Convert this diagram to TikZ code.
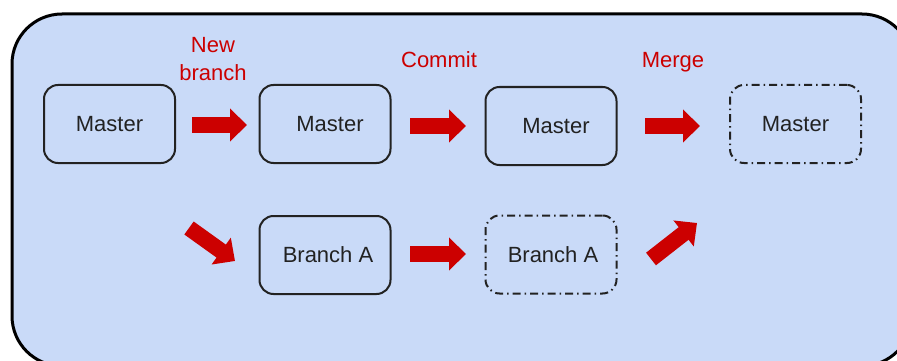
\documentclass[tikz,border=0pt]{standalone}
\usepackage{fontspec}
\setmainfont{Liberation Sans}
\usetikzlibrary{arrows.meta}
\definecolor{bgblue}{HTML}{C9DAF8}
\definecolor{redc}{HTML}{CC0000}
\definecolor{ink}{HTML}{222222}
\begin{document}
\begin{tikzpicture}[x=1pt,y=-1pt,
  box/.style={draw=ink, line width=2pt, rounded corners=14pt, minimum width=131pt, minimum height=78pt, font=\fontsize{22}{26}\selectfont, text=ink, inner sep=0pt},
  ghost/.style={box, dash pattern=on 8pt off 4pt on 1.5pt off 4pt},
  bigarrow/.style={draw=redc, line width=16pt, -{Triangle[width=32pt,length=17pt]}},
  lbl/.style={text=redc, font=\fontsize{22}{26}\selectfont, anchor=base, inner sep=0pt}]
\useasboundingbox (0,0) rectangle (897,361);
\begin{scope}
\clip (0,0) rectangle (897,361);
\draw[fill=bgblue, draw=black, line width=3pt, rounded corners=50pt] (12,14) rectangle (912,366);
\end{scope}
% boxes
\node[box] (m1) at (109.5,124) {Master};
\node[box] (m2) at (325,124) {\hspace*{10pt}Master};
\node[box] (m3) at (551,126) {\hspace*{10pt}Master};
\node[ghost] (m4) at (795.5,124) {Master};
\node[box] (b1) at (325,255) {\hspace*{6pt}Branch A};
\node[ghost] (b2) at (551,254.5) {\hspace*{4pt}Branch A};
% labels
\node[lbl] (l1a) at (213,53) {New};
\node[lbl] (l1b) at (213,81) {branch};
\node[lbl] (l2) at (439,68) {Commit};
\node[lbl] (l3) at (673,68) {Merge};
% arrow endpoints
\coordinate (a1s) at (192,125); \coordinate (a1e) at (247,125);
\coordinate (a2s) at (410,126); \coordinate (a2e) at (466,126);
\coordinate (a3s) at (645,126); \coordinate (a3e) at (700,126);
\coordinate (a4s) at (410,254); \coordinate (a4e) at (466,254);
\coordinate (d1s) at (189,228); \coordinate (d1e) at (235,261);
\coordinate (d2s) at (651,259); \coordinate (d2e) at (697,223);
\draw[bigarrow] (a1s) -- (a1e);
\draw[bigarrow] (a2s) -- (a2e);
\draw[bigarrow] (a3s) -- (a3e);
\draw[bigarrow] (a4s) -- (a4e);
\draw[bigarrow] (d1s) -- (d1e);
\draw[bigarrow] (d2s) -- (d2e);
\end{tikzpicture}
\end{document}
